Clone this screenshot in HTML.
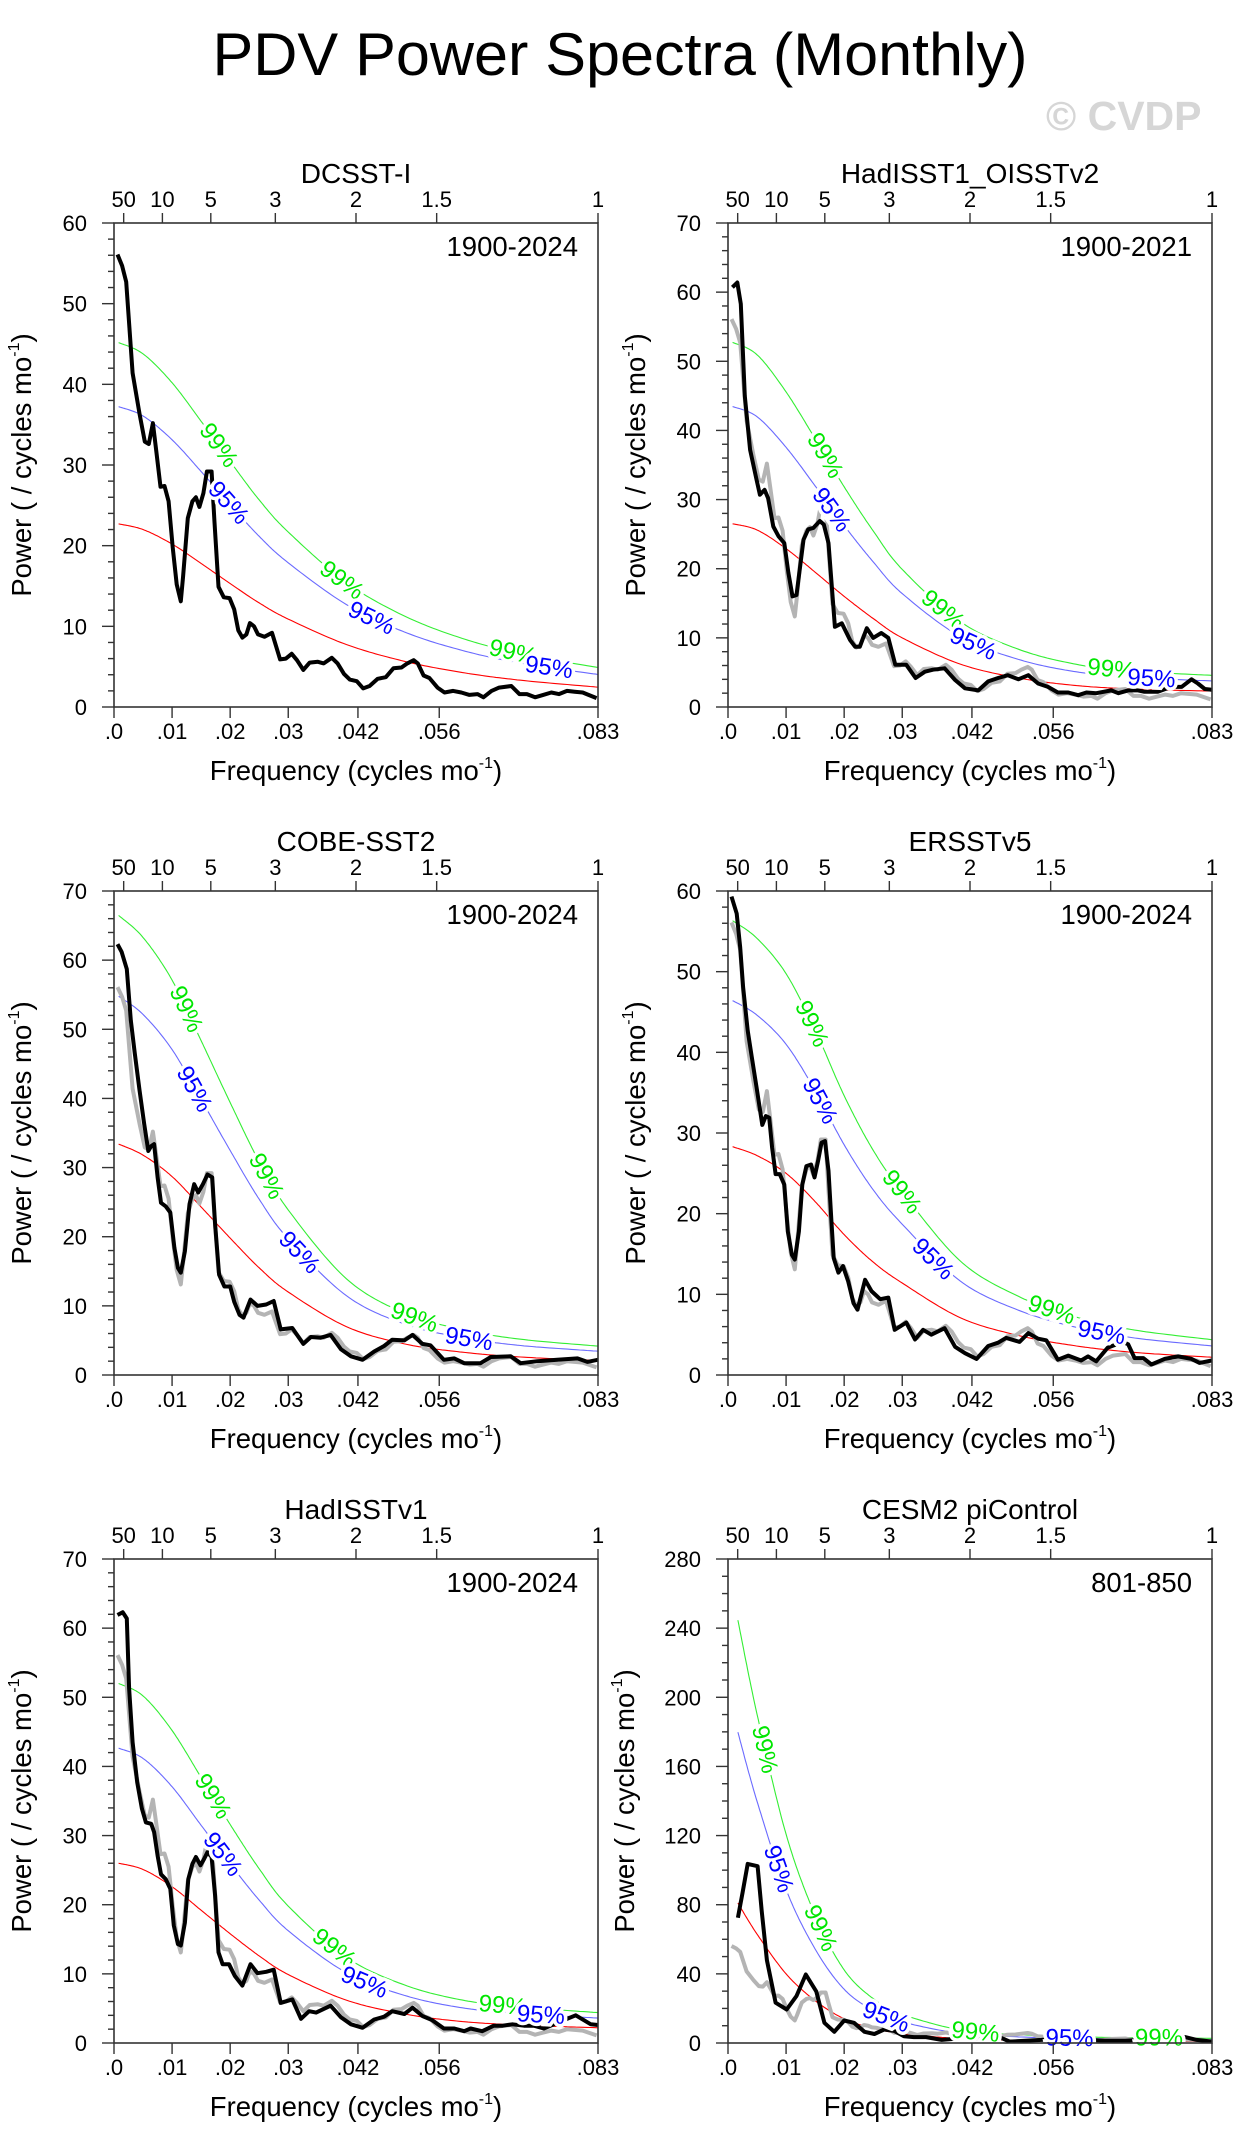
<!DOCTYPE html>
<html><head><meta charset="utf-8"><title>PDV Power Spectra (Monthly)</title>
<style>
html,body{margin:0;padding:0;background:#fff;}
svg{display:block;font-family:"Liberation Sans",Arial,sans-serif;}
</style></head>
<body>
<svg id="chart" width="1248" height="2151" viewBox="0 0 1248 2151" xmlns="http://www.w3.org/2000/svg">
<rect x="0" y="0" width="1248" height="2151" fill="#fff"/>
<text x="620" y="75" font-size="60" text-anchor="middle" textLength="815" lengthAdjust="spacingAndGlyphs" fill="#000">PDV Power Spectra (Monthly)</text>
<text x="1046" y="130" font-size="41" font-weight="bold" fill="#d6d6d6">© CVDP</text>
</svg>
<script>
// ---- data ----
const panelTitles = ["DCSST-I","HadISST1_OISSTv2","COBE-SST2","ERSSTv5","HadISSTv1","CESM2 piControl"];
const panelYears = ["1900-2024","1900-2021","1900-2024","1900-2024","1900-2024","801-850"];
const panelYMax = [60,70,70,60,70,280];
const panelYStep = [10,10,10,10,10,40];
const panelMinorDiv = [5,5,5,5,5,4];
const topPeriods = [50,10,5,3,2,1.5,1];
const topPeriodLabels = ["50","10","5","3","2","1.5","1"];
const bottomTicks = [0,0.01,0.02,0.03,0.042,0.056,1/12];
const bottomTickLabels = [".0",".01",".02",".03",".042",".056",".083"];

// DCSST-I spectrum (black in panel 1, grey reference in others)
const dcsstFreq = [.0006,.0014,.0021,.0032,.0044,.0053,.0060,.0067,.0073,.0080,.0087,.0094,.0101,.0108,.0115,.0119,.0127,.0135,.0141,.0147,.0154,.0160,.0168,.0173,.0180,.0189,.0199,.0207,.0214,.0221,.0228,.0234,.0241,.0248,.0259,.0272,.0286,.0296,.0306,.0315,.0326,.0337,.0351,.0361,.0375,.0385,.0396,.0406,.0418,.0429,.0440,.0454,.0468,.0481,.0495,.0505,.0516,.0523,.0533,.0543,.0557,.0569,.0584,.0598,.0612,.0626,.0636,.0650,.0663,.0684,.0698,.0711,.0725,.0739,.0753,.0766,.0780,.0793,.0807,.0817,.0831];
const dcsstPower = [56.1,54.7,52.7,41.4,36.3,32.9,32.6,35.2,31.6,27.3,27.4,25.5,19.8,15.2,13.1,16.2,23.4,25.5,26.0,24.8,26.5,29.2,29.2,22.9,14.9,13.6,13.5,12.1,9.5,8.6,9.0,10.4,10.0,9.0,8.7,9.2,5.9,6.0,6.6,5.8,4.6,5.5,5.6,5.4,6.1,5.4,4.1,3.4,3.2,2.3,2.6,3.5,3.7,4.8,4.9,5.4,5.8,5.4,3.9,3.6,2.4,1.8,2.0,1.8,1.5,1.6,1.2,2.0,2.4,2.6,1.6,1.6,1.2,1.5,1.8,1.6,2.0,1.9,1.8,1.5,1.1];

const hadoiFreq = [.00075,.0016,.0022,.0029,.0038,.0049,.0055,.0063,.0069,.0078,.0087,.0097,.0104,.0111,.0118,.0130,.0138,.0147,.0158,.0165,.0173,.0184,.0196,.0210,.0219,.0227,.0239,.0250,.0264,.0276,.0288,.0307,.0323,.0339,.0353,.0373,.0391,.0408,.0431,.0448,.0465,.0482,.0500,.0517,.0534,.0551,.0568,.0586,.0603,.0617,.0634,.0660,.0672,.0689,.0706,.0717,.0740,.0763,.0781,.0798,.0809,.0821,.0833];
const hadoiPower = [60.7,61.4,58.3,45.0,37.2,32.9,30.7,31.4,30.2,26.1,24.7,23.7,19.4,16.0,16.2,24.2,25.7,25.9,26.9,26.4,23.7,11.6,12.1,9.7,8.7,8.7,11.4,10.0,10.7,10.0,6.1,6.1,4.2,5.1,5.4,5.6,3.9,2.7,2.4,3.7,4.2,4.6,4.0,4.6,3.4,2.9,2.1,2.1,1.7,2.1,2.0,2.4,2.0,2.4,2.4,2.2,2.2,2.9,2.9,4.0,3.4,2.6,2.5];

const cobeFreq = [.0006,.0013,.0022,.0029,.0036,.0044,.0052,.0059,.0064,.0069,.0075,.0081,.0089,.0097,.0104,.0110,.0115,.0122,.0130,.0138,.0145,.0153,.0161,.0169,.0174,.0181,.0190,.0200,.0207,.0216,.0223,.0235,.0247,.0262,.0275,.0287,.0307,.0326,.0339,.0356,.0373,.0391,.0408,.0428,.0448,.0465,.0479,.0500,.0514,.0531,.0545,.0568,.0586,.0603,.0631,.0649,.0683,.0700,.0729,.0763,.0798,.0815,.0833];
const cobePower = [62.3,61.2,58.7,51.3,46.4,41.1,36.3,32.4,33.1,33.4,28.6,24.9,24.4,23.5,18.4,15.5,14.8,17.9,24.7,27.6,26.4,27.6,29.0,28.6,21.8,14.5,12.8,12.8,10.6,8.7,8.3,10.9,10.0,10.2,10.7,6.6,6.8,4.5,5.5,5.4,5.8,3.7,2.7,2.2,3.4,4.2,5.1,5.0,5.8,4.5,4.3,2.2,2.4,1.7,1.7,2.6,2.7,1.7,2.0,2.2,2.4,1.9,2.2];

const erFreq = [.0006,.0015,.0021,.0026,.0034,.0041,.0049,.0059,.0065,.0071,.0076,.0082,.0089,.0097,.0103,.0110,.0115,.0122,.0128,.0135,.0143,.0149,.0155,.0161,.0167,.0173,.0178,.0182,.0190,.0198,.0207,.0216,.0223,.0236,.0247,.0262,.0276,.0287,.0307,.0322,.0336,.0350,.0373,.0391,.0408,.0428,.0448,.0465,.0479,.0502,.0517,.0534,.0548,.0568,.0586,.0608,.0620,.0634,.0654,.0680,.0689,.0700,.0715,.0729,.0752,.0775,.0798,.0812,.0833];
const erPower = [59.3,57.2,53.0,48.1,42.7,39.4,35.7,31.0,32.1,31.9,28.2,24.9,24.9,23.6,17.8,14.9,14.3,17.8,23.6,25.9,26.1,24.5,26.5,28.8,29.0,25.3,19.1,14.5,12.7,13.5,11.6,8.9,8.1,11.8,10.4,9.4,9.6,5.6,6.5,4.4,5.6,5.0,5.8,3.5,2.7,2.0,3.6,4.0,4.6,4.1,5.2,4.5,4.3,1.9,2.4,1.8,2.3,1.7,3.4,4.1,3.8,2.1,2.1,1.3,2.0,2.3,2.0,1.5,1.8];

const hadv1Freq = [.0006,.0015,.0022,.0026,.0032,.0040,.0048,.0055,.0064,.0069,.0075,.0081,.0089,.0097,.0103,.0110,.0115,.0122,.0128,.0135,.0141,.0149,.0155,.0161,.0168,.0174,.0180,.0187,.0198,.0208,.0221,.0235,.0247,.0262,.0275,.0287,.0307,.0322,.0336,.0348,.0373,.0391,.0408,.0428,.0448,.0465,.0479,.0500,.0514,.0531,.0548,.0568,.0586,.0603,.0614,.0634,.0654,.0669,.0686,.0706,.0723,.0740,.0763,.0795,.0809,.0821,.0833];
const hadv1Power = [61.9,62.3,61.4,51.3,43.5,37.7,33.9,31.9,31.7,30.5,27.1,24.4,23.7,22.3,17.0,14.3,14.1,17.4,23.7,25.9,26.9,25.7,26.6,27.6,26.9,21.3,13.1,11.4,11.4,9.7,8.3,11.4,10.1,10.3,10.6,5.8,6.3,3.5,4.6,4.4,5.4,3.7,2.7,2.2,3.4,3.8,4.6,4.2,5.1,3.9,3.3,2.1,2.1,1.7,2.1,1.7,2.5,2.5,2.7,2.5,2.5,2.1,2.9,4.0,3.3,2.7,2.6];

const cesmFreq = [.0017,.0025,.0034,.0051,.0058,.0067,.0082,.0101,.0118,.0134,.0152,.0166,.0183,.0200,.0217,.0235,.0252,.0269,.0286,.0303,.0320,.0341,.0368,.0396,.0416,.0440,.0464,.0485,.0512,.0540,.0567,.0595,.0622,.0649,.0684,.0711,.0739,.0766,.0787,.0807,.0833];
const cesmPower = [72.5,86.8,103.6,102.3,76.4,47.9,23.3,19.4,27.2,39.6,29.8,11.7,6.5,13.0,11.7,6.5,5.2,7.8,7.0,3.9,3.4,3.4,1.8,2.6,4.4,5.2,3.9,0.8,1.3,1.8,2.6,1.8,1.8,1.3,1.3,1.8,1.8,3.9,3.4,1.8,0.8];

// red-noise (Markov) spectra sampled at frequencies
const redFreqObs = [.0008,.005,.01,.015,.02,.025,.03,.04,.05,.06,.07,.0833];
const redFreqCesm = [.0017,.005,.01,.015,.02,.025,.03,.04,.05,.06,.07,.0833];
const redDcsst = [22.7,22.0,20.2,17.8,15.3,12.9,10.9,7.75,5.67,4.27,3.32,2.46];
const redHadoi = [26.5,25.6,22.9,19.5,16.0,12.8,10.0,6.2,4.2,3.1,2.6,2.3];
const redCobe = [33.4,31.8,28.7,24.3,19.8,15.5,12.0,7.0,4.5,3.3,2.6,2.1];
const redEr = [28.3,27.2,25.0,21.5,17.4,14.0,11.4,7.1,4.9,3.6,2.8,2.2];
const redHadv1 = [26.0,25.1,22.6,19.2,15.8,12.6,9.9,6.2,4.2,3.1,2.6,2.2];
const redCesm = [81,63,40,24.5,14,8.5,5.5,2.5,1.6,1.2,1.0,0.9];

const conf95Factor = [1.64,1.64,1.64,1.64,1.64,2.22];
const conf99Factor = [1.99,1.99,1.99,1.99,2.0,3.02];

// curve label placements (frequency)
const label99Freq = [[.0180,.0392,.0687],[.0167,.0370,.0660],[.0124,.0262,.0517],[.0144,.0299,.0557],[.0170,.0379,.0669],[.0063,.0159,.0426,.0742]];
const label95Freq = [[.0197,.0443,.0749],[.0178,.0422,.0729],[.0138,.0319,.0611],[.0158,.0353,.0643],[.0187,.0431,.0735],[.0087,.0272,.0588]];

const seriesFreq = [dcsstFreq,hadoiFreq,cobeFreq,erFreq,hadv1Freq,cesmFreq];
const seriesPower = [dcsstPower,hadoiPower,cobePower,erPower,hadv1Power,cesmPower];
const redFreqs = [redFreqObs,redFreqObs,redFreqObs,redFreqObs,redFreqObs,redFreqCesm];
const redVals = [redDcsst,redHadoi,redCobe,redEr,redHadv1,redCesm];

// ---- drawing ----
const NS = "http://www.w3.org/2000/svg";
const svg = document.getElementById("chart");
const SIZE = 484, XMAX = 1/12;
const origins = [[114,223],[728,223],[114,891],[728,891],[114,1559],[728,1559]];

function mk(tag, parent, attrs){
  const e = document.createElementNS(NS, tag);
  for (const k in attrs) e.setAttribute(k, attrs[k]);
  parent.appendChild(e);
  return e;
}
function smooth(pts){
  const out=[];
  for(let i=0;i<pts.length-1;i++){
    const p0=pts[Math.max(0,i-1)],p1=pts[i],p2=pts[i+1],p3=pts[Math.min(pts.length-1,i+2)];
    for(let t=0;t<1;t+=0.05){
      const t2=t*t,t3=t2*t;
      const f=(a,b,c,d)=>0.5*((2*b)+(-a+c)*t+(2*a-5*b+4*c-d)*t2+(-a+3*b-3*c+d)*t3);
      out.push([f(p0[0],p1[0],p2[0],p3[0]),f(p0[1],p1[1],p2[1],p3[1])]);
    }
  }
  out.push(pts[pts.length-1]);
  return out;
}
function ptsStr(a){return a.map(p=>p[0].toFixed(1)+","+p[1].toFixed(1)).join(" ");}

for(let i=0;i<6;i++){
  const L=origins[i][0], T=origins[i][1], B=T+SIZE, R=L+SIZE;
  const ymax=panelYMax[i];
  const x=f=>L+f/XMAX*SIZE;
  const y=p=>B-p/ymax*SIZE;
  const g=mk("g",svg,{});
  
  

  const cp=mk("clipPath",g,{id:"clip"+i});
  mk("rect",cp,{x:L,y:T,width:SIZE,height:SIZE});

  const tt=mk("text",g,{x:(L+R)/2,y:T-40,"font-size":28,"text-anchor":"middle",fill:"#000"});
  tt.textContent=panelTitles[i];
  
  

  const yr=mk("text",g,{x:R-20,y:T+33,"font-size":27.5,"text-anchor":"end",fill:"#000"});
  yr.textContent=panelYears[i];
  
  

  const curves=[
    {fac:conf99Factor[i],color:"#33ee33",text:"#00e600",labels:label99Freq[i],name:"confidence-99-curve",lab:"99%"},
    {fac:conf95Factor[i],color:"#6a6aff",text:"#0000ff",labels:label95Freq[i],name:"confidence-95-curve",lab:"95%"},
    {fac:1,color:"#ff0000",text:null,labels:[],name:"red-noise-curve",lab:""}
  ];
  const cg=mk("g",g,{"clip-path":"url(#clip"+i+")"});
  
  
  const labelLayer=[];
  curves.forEach(c=>{
    const pts=smooth(redFreqs[i].map((f,k)=>[x(f),y(redVals[i][k]*c.fac)]));
    const pl=mk("polyline",cg,{points:ptsStr(pts),fill:"none",stroke:c.color,"stroke-width":1.1});
    
    
    c.labels.forEach(lf=>{
      const lx=x(lf);
      let k=0; while(k<pts.length-1 && pts[k][0]<lx) k++;
      const a=pts[Math.max(0,k-4)], b=pts[Math.min(pts.length-1,k+4)];
      const ang=Math.atan2(b[1]-a[1],b[0]-a[0])*180/Math.PI;
      labelLayer.push({x:lx,y:pts[k][1],ang:ang,color:c.text,lab:c.lab});
    });
  });

  if(i>0){
    const gp=mk("polyline",cg,{points:ptsStr(dcsstFreq.map((f,k)=>[x(f),y(dcsstPower[k])])),fill:"none",stroke:"#b4b4b4","stroke-width":4,"stroke-linejoin":"round"});
    
    
  }
  const bp=mk("polyline",cg,{points:ptsStr(seriesFreq[i].map((f,k)=>[x(f),y(seriesPower[i][k])])),fill:"none",stroke:"#000","stroke-width":4,"stroke-linejoin":"round"});
  
  

  labelLayer.forEach(l=>{
    const t=mk("text",g,{x:0,y:0,"font-size":24,"text-anchor":"middle","dominant-baseline":"central",fill:l.color,stroke:"#fff","stroke-width":7,"paint-order":"stroke",transform:"translate("+l.x.toFixed(1)+","+l.y.toFixed(1)+") rotate("+l.ang.toFixed(1)+")"});
    t.textContent=l.lab;
    
    
  });

  const fr=mk("rect",g,{x:L,y:T,width:SIZE,height:SIZE,fill:"none",stroke:"#333","stroke-width":1.6});
  
  

  const yg=mk("g",g,{});
  
  
  const step=panelYStep[i], minor=step/panelMinorDiv[i];
  for(let v=0;v<=ymax+1e-9;v+=minor){
    const isMaj=Math.abs(v/step-Math.round(v/step))<1e-6;
    mk("line",yg,{x1:L-(isMaj?12:6),x2:L,y1:y(v),y2:y(v),stroke:"#333","stroke-width":1.4});
    if(isMaj){
      const lt=mk("text",yg,{x:L-27,y:y(v)+8,"font-size":22,"text-anchor":"end",fill:"#000"});
      lt.textContent=String(Math.round(v));
      
      
    }
  }
  const ytx=L-(i===5?94:83), yty=(T+B)/2;
  const yt=mk("text",g,{x:0,y:0,"font-size":27.5,"text-anchor":"middle",fill:"#000",transform:"translate("+ytx+","+yty+") rotate(-90)"});
  yt.innerHTML='Power ( / cycles mo<tspan font-size="16" dy="-12">-1</tspan><tspan dy="12">)</tspan>';
  
  

  const xg=mk("g",g,{});
  
  
  bottomTicks.forEach((f,k)=>{
    mk("line",xg,{x1:x(f),x2:x(f),y1:B,y2:B+11,stroke:"#333","stroke-width":1.4});
    const lt=mk("text",xg,{x:x(f),y:B+32,"font-size":22,"text-anchor":"middle",fill:"#000"});
    lt.textContent=bottomTickLabels[k];
    
    
  });
  const xt=mk("text",g,{x:(L+R)/2,y:B+73,"font-size":27.5,"text-anchor":"middle",fill:"#000"});
  xt.innerHTML='Frequency (cycles mo<tspan font-size="16" dy="-12">-1</tspan><tspan dy="12">)</tspan>';
  
  

  const pg=mk("g",g,{});
  
  
  topPeriods.forEach((P,k)=>{
    const f=1/(12*P);
    mk("line",pg,{x1:x(f),x2:x(f),y1:T-10,y2:T,stroke:"#333","stroke-width":1.4});
    const lt=mk("text",pg,{x:x(f),y:T-16,"font-size":22,"text-anchor":"middle",fill:"#000"});
    lt.textContent=topPeriodLabels[k];
    
    
  });
}
</script>
</body></html>
